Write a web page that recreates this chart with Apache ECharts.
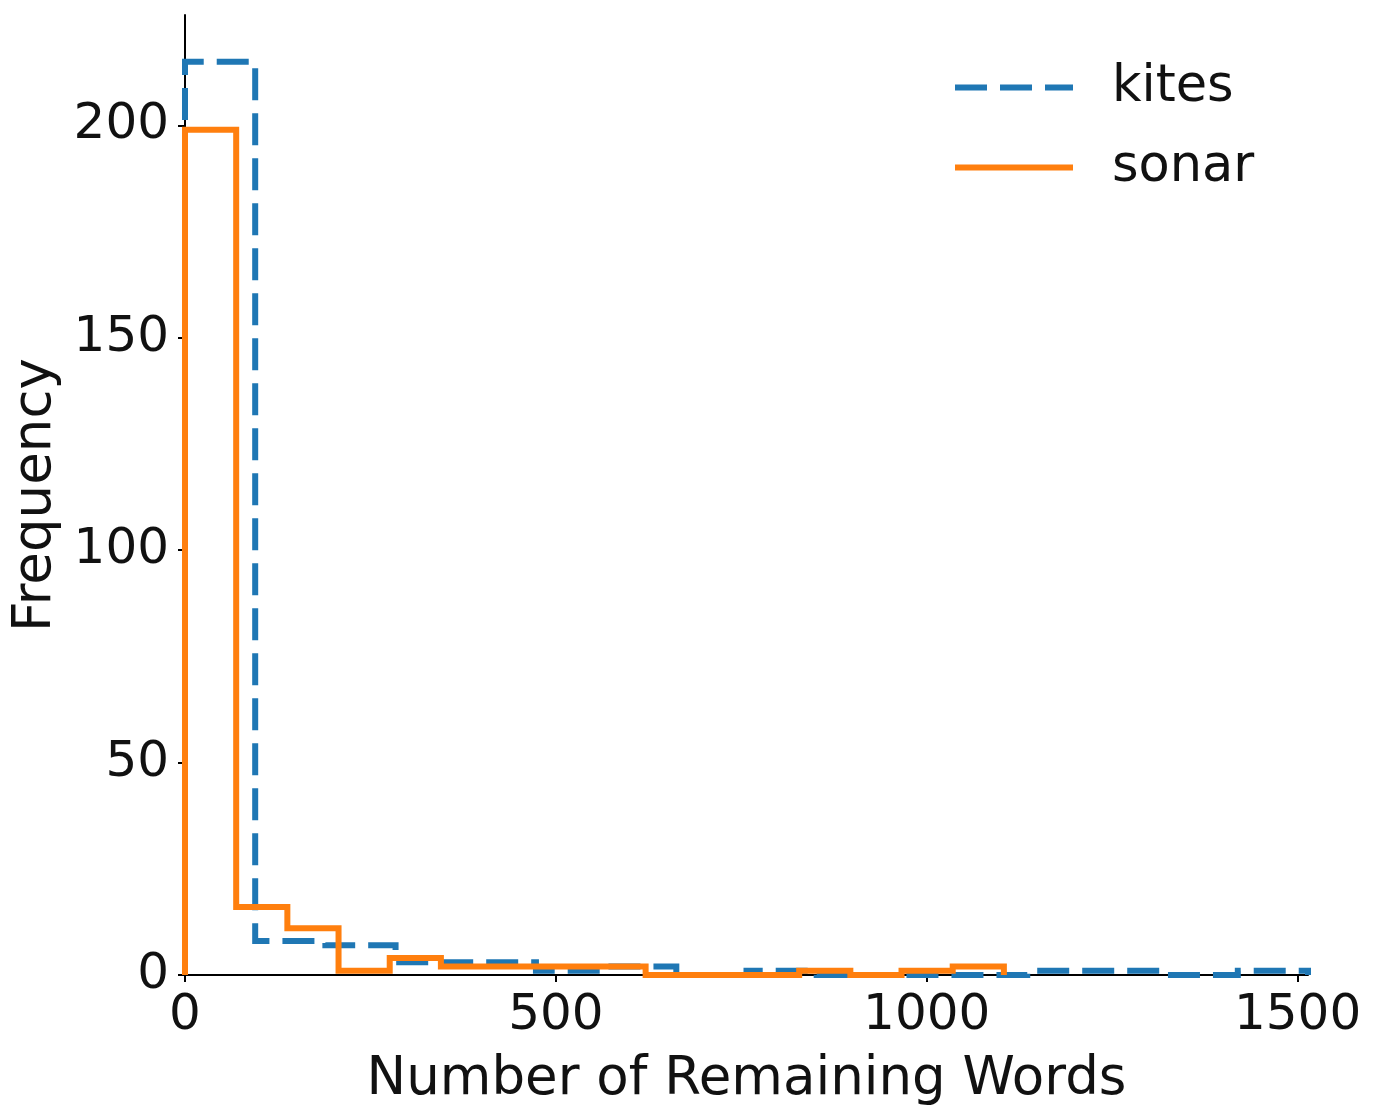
<!DOCTYPE html>
<html>
<head>
<meta charset="utf-8">
<script src="https://cdn.jsdelivr.net/npm/echarts@6/dist/echarts.min.js"></script>
<style>
  html, body { margin: 0; padding: 0; background: #fff; }
  #chart { width: 1375px; height: 1112px; }
</style>
</head>
<body>
<div id="chart"></div>
<script>
// histogram bins (16 bins each)
var kitesMax = 1514;
var kitesCounts = [215, 8, 7, 3, 3, 1, 2, 0, 1, 0, 0, 0, 1, 1, 0, 1];
var sonarMax = 1104;
var sonarCounts = [199, 16, 11, 1, 4, 2, 2, 2, 2, 0, 0, 0, 1, 0, 1, 2];
var xTicks = [0, 500, 1000, 1500];
var yTicks = [0, 50, 100, 150, 200];

// step outline like matplotlib histtype='step'
function stepPath(counts, maxVal){
  var w = maxVal / counts.length;
  var pts = [[0, 0]];
  counts.forEach(function(c, i){
    pts.push([i * w, c]);
    pts.push([(i + 1) * w, c]);
  });
  pts.push([maxVal, 0]);
  return pts;
}

var font = 'DejaVu Sans';
var chart = echarts.init(document.getElementById('chart'));
chart.setOption({
  animation: false,
  textStyle: { fontFamily: font },
  grid: { left: 185, right: 67, top: 15, bottom: 135 },
  legend: {
    show: true,
    orient: 'vertical',
    left: 950,
    top: 57,
    itemWidth: 118,
    itemHeight: 6,
    itemGap: 29,
    textStyle: { fontSize: 51, color: '#111', padding: [0, 0, 0, 34], fontFamily: font },
    data: [
      { name: 'kites', icon: 'path://M0,0h32v6h-32z M45,0h32v6h-32z M90,0h28v6h-28z' },
      { name: 'sonar', icon: 'rect' }
    ]
  },
  xAxis: {
    type: 'value',
    min: 0,
    max: kitesMax,
    name: 'Number of Remaining Words',
    nameLocation: 'middle',
    nameGap: 79,
    nameTextStyle: { fontSize: 53, color: '#111' },
    splitLine: { show: false },
    axisLine: { lineStyle: { color: '#000', width: 2 } },
    axisTick: { inside: false, length: 7, lineStyle: { color: '#000', width: 2 }, customValues: xTicks },
    axisLabel: { fontSize: 50, color: '#111', margin: 16, customValues: xTicks, formatter: function(v){ return String(v); } }
  },
  yAxis: {
    type: 'value',
    min: 0,
    max: 226,
    name: 'Frequency',
    nameLocation: 'middle',
    nameGap: 121,
    nameTextStyle: { fontSize: 53, color: '#111' },
    splitLine: { show: false },
    axisLine: { show: true, lineStyle: { color: '#000', width: 2 } },
    axisTick: { show: true, inside: false, length: 7, lineStyle: { color: '#000', width: 2 }, customValues: yTicks },
    axisLabel: { fontSize: 50, color: '#111', margin: 16, customValues: yTicks, formatter: function(v){ return String(v); } }
  },
  series: [
    {
      name: 'kites',
      type: 'line',
      showSymbol: false,
      symbol: 'none',
      data: stepPath(kitesCounts, kitesMax),
      lineStyle: { color: '#1f77b4', width: 6, type: [32, 13], cap: 'butt', join: 'miter' },
      itemStyle: { color: '#1f77b4' },
      z: 2
    },
    {
      name: 'sonar',
      type: 'line',
      showSymbol: false,
      symbol: 'none',
      data: stepPath(sonarCounts, sonarMax),
      lineStyle: { color: '#ff7f0e', width: 6, join: 'miter' },
      itemStyle: { color: '#ff7f0e' },
      z: 3
    }
  ]
});
</script>
</body>
</html>
